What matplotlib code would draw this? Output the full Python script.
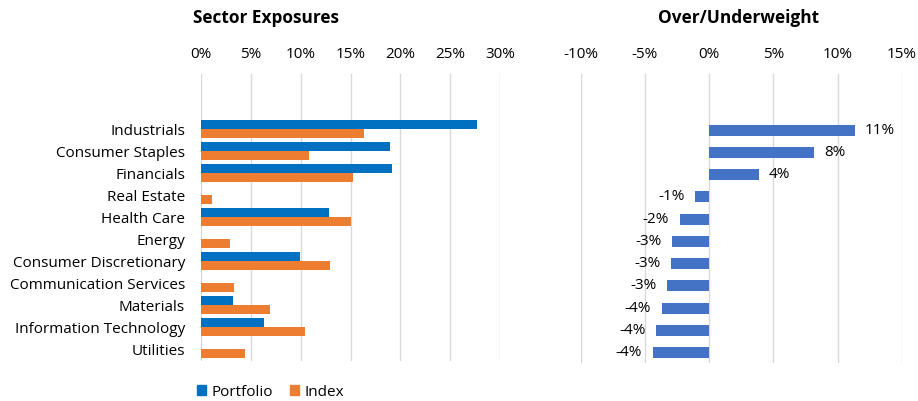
import numpy as np
import matplotlib
matplotlib.use('Agg')
import matplotlib.pyplot as plt
from matplotlib.ticker import FuncFormatter
from matplotlib.patches import Patch

plt.rcParams['font.family'] = ['Open Sans', 'DejaVu Sans']

sectors = ['Industrials', 'Consumer Staples', 'Financials', 'Real Estate',
           'Health Care', 'Energy', 'Consumer Discretionary',
           'Communication Services', 'Materials', 'Information Technology',
           'Utilities']
# weights in %
portfolio = [27.7, 19.0, 19.2, 0.0, 12.8, 0.0, 9.9, 0.0, 3.2, 6.3, 0.0]
index_w = [16.35, 10.8, 15.3, 1.1, 15.1, 2.9, 12.9, 3.3, 6.9, 10.4, 4.4]

active = np.array(portfolio) - np.array(index_w)

W, H = 918, 401
fig = plt.figure(figsize=(W / 100, H / 100), dpi=100)

def px_axes(x0, x1, y0, y1):
    return fig.add_axes([x0 / W, 1 - y1 / H, (x1 - x0) / W, (y1 - y0) / H])

pct = FuncFormatter(lambda v, p: '%d%%' % round(v))
grid_c = '#d9d9d9'
txt_c = '#000000'
fs = 11

# ---- left: sector exposures
ax = px_axes(201, 500, 74, 361)
pos = np.arange(len(sectors))
bh = 0.41
ax.barh(pos - bh / 2, portfolio, height=bh, color='#0070C0', label='Portfolio', zorder=3)
ax.barh(pos + bh / 2, index_w, height=bh, color='#ED7D31', label='Index', zorder=3)
ax.set_xlim(0, 30)
ax.set_ylim(10.53, -2.51)
ax.set_xticks(np.arange(0, 31, 5))
ax.xaxis.set_major_formatter(pct)
ax.set_yticks(pos)
ax.set_yticklabels(sectors)
ax.xaxis.grid(True, color=grid_c, lw=1, zorder=0)
ax.tick_params(top=True, labeltop=True, bottom=False, labelbottom=False,
               length=0, labelsize=fs, colors=txt_c)
ax.tick_params(axis='x', pad=8.5)
ax.tick_params(axis='y', pad=11.5)
for s in ax.spines.values():
    s.set_visible(False)
fig.text(266 / W, 1 - 18 / H, 'Sector Exposures', ha='center', va='center',
         fontsize=12.4, fontweight='bold')

handles = [Patch(color='#0070C0', label='Portfolio'), Patch(color='#ED7D31', label='Index')]
fig.legend(handles=handles, loc='center left', bbox_to_anchor=(197 / W, 1 - 392 / H),
           ncol=2, frameon=False, fontsize=fs, handlelength=0.6, handleheight=0.6,
           handletextpad=0.35, columnspacing=1.1, borderaxespad=0, borderpad=0)

# ---- right: over/underweight
ax2 = px_axes(580.7, 901.7, 74, 363)
ax2.barh(pos, active, height=0.5, color='#4472C4', zorder=3)
ax2.set_xlim(-10, 15)
ax2.set_ylim(10.47, -2.53)
ax2.set_xticks(np.arange(-10, 16, 5))
ax2.xaxis.set_major_formatter(pct)
ax2.set_yticks([])
ax2.xaxis.grid(True, color=grid_c, lw=1, zorder=0)
ax2.tick_params(top=True, labeltop=True, bottom=False, labelbottom=False,
                length=0, labelsize=fs, colors=txt_c, pad=8.5)
for s in ax2.spines.values():
    s.set_visible(False)
for y, v in zip(pos, active):
    lab = '%d%%' % round(v)
    if v >= 0:
        ax2.annotate(lab, (v, y), xytext=(7, 0), textcoords='offset points',
                     ha='left', va='center', fontsize=fs)
    else:
        ax2.annotate(lab, (v, y), xytext=(-7.5, 0), textcoords='offset points',
                     ha='right', va='center', fontsize=fs)
fig.text(739 / W, 1 - 18 / H, 'Over/Underweight', ha='center', va='center',
         fontsize=12.4, fontweight='bold')

fig.savefig('out.png', dpi=100)
